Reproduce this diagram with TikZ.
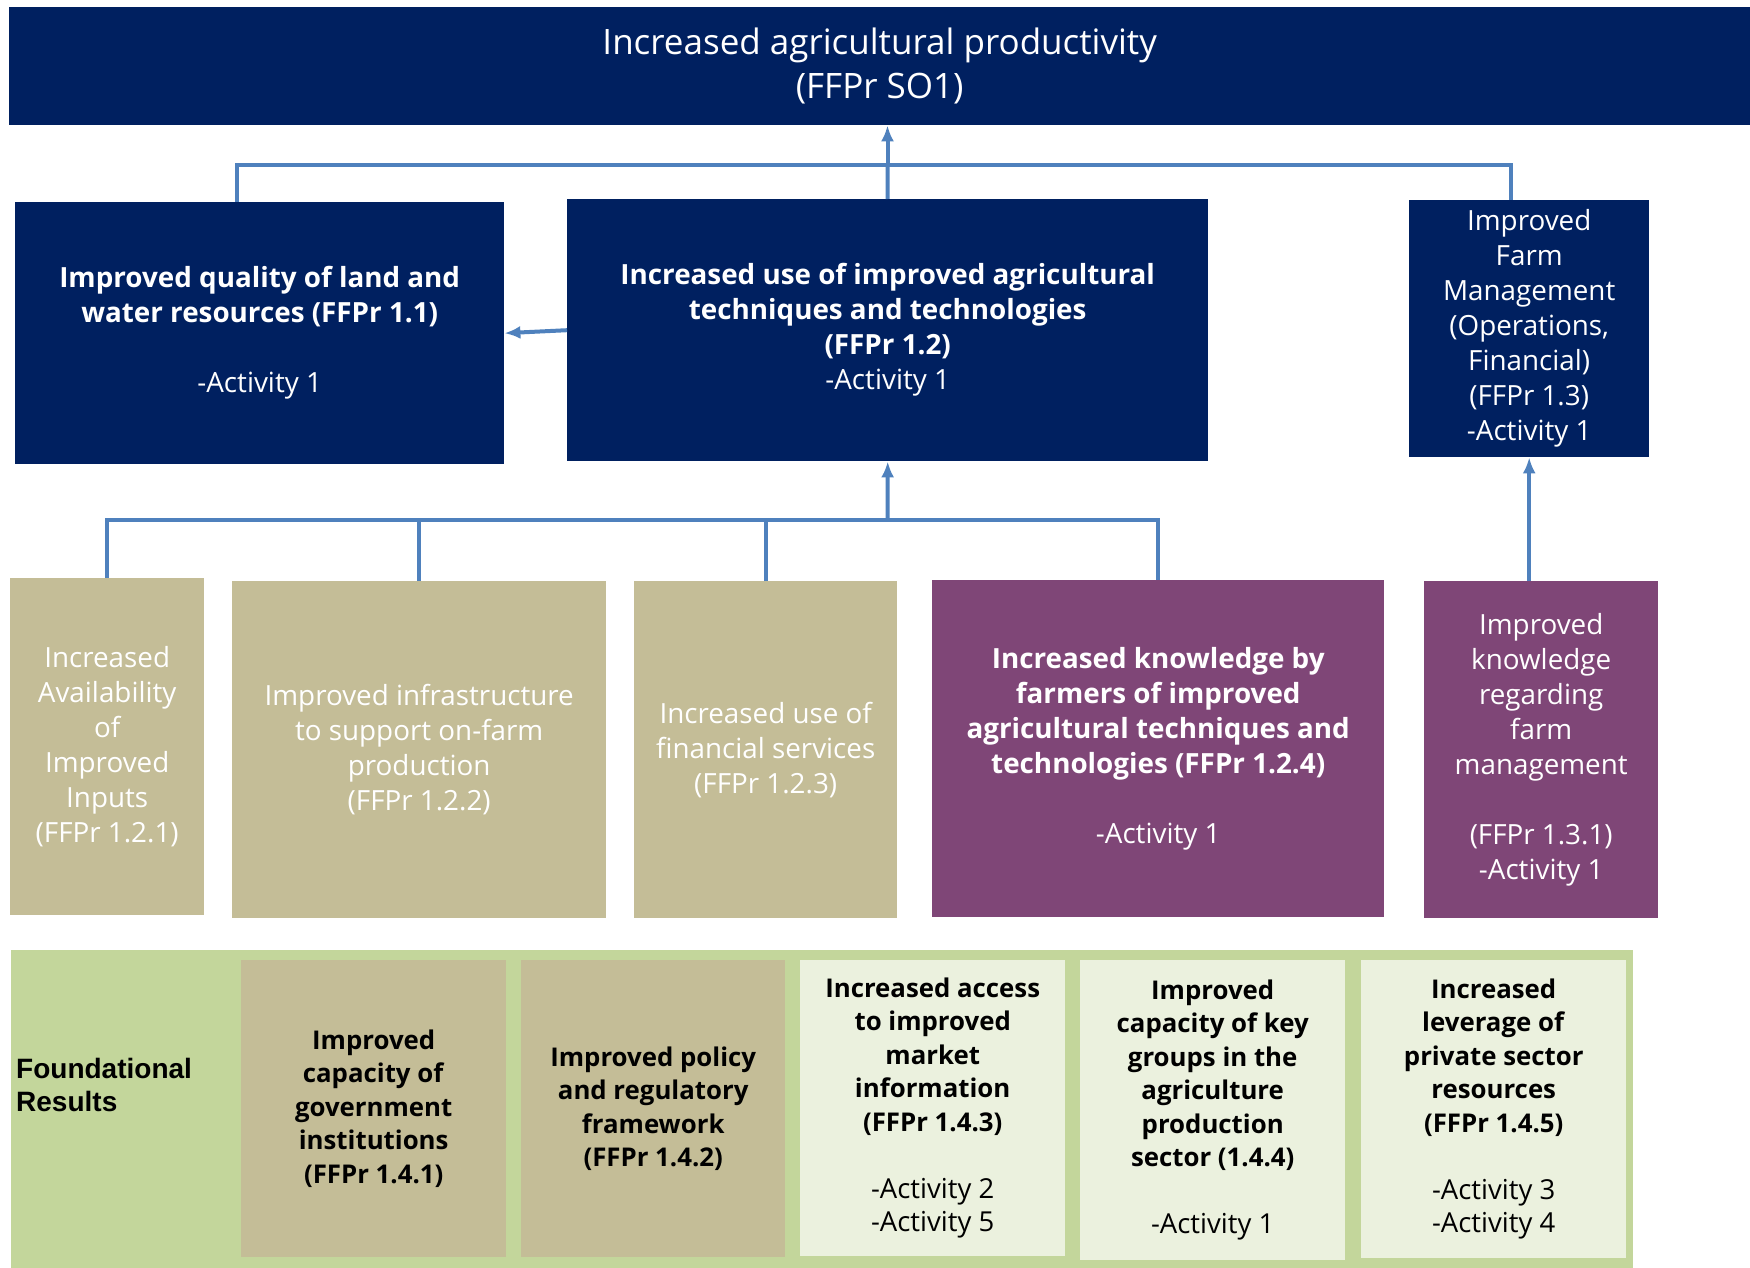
\documentclass[tikz,border=0pt]{standalone}
\usepackage{fontspec}
\setmainfont{Open Sans}
\newfontfamily\labelfont{Liberation Sans}
\usepackage{xcolor}
\definecolor{fs-navy}{HTML}{002060}
\definecolor{fs-link}{HTML}{4F81BD}
\definecolor{fs-tan}{HTML}{C4BD97}
\definecolor{fs-plum}{HTML}{7F4677}
\definecolor{fs-green}{HTML}{C3D69B}
\definecolor{fs-pale}{HTML}{EBF1DE}
\usetikzlibrary{arrows.meta}
\newcommand{\act}[1]{{\fontsize{27.5}{33.5}\selectfont #1}}

\begin{document}
\begin{tikzpicture}[x=1pt,y=-1pt,
    box/.style={rectangle, inner sep=0pt, anchor=north west, align=center},
    navybox/.style={box, fill=fs-navy, text=white, font=\fontsize{27.8}{35}\selectfont},
    tanbox/.style={box, fill=fs-tan, text=white, font=\fontsize{27.8}{35}\selectfont},
    plumbox/.style={box, fill=fs-plum, text=white, font=\fontsize{27.8}{35}\selectfont},
    basebox/.style={box, text=black, font=\fontsize{25.8}{33.5}\selectfont},
    link/.style={draw=fs-link, line width=4pt},
    uplink/.style={link, -{Latex[length=16pt,width=13pt]}}]

  \useasboundingbox (0,0) rectangle (1750,1268);

  % Goal banner
  \node[box, fill=fs-navy, text=white, font=\fontsize{35}{44}\selectfont,
        minimum width=1741pt, minimum height=118pt] (goal) at (9,7)
        {Increased agricultural productivity\\(FFPr SO1)};

  % Second row
  \node[navybox, minimum width=489pt, minimum height=262pt] (land) at (15,202)
        {\textbf{Improved quality of land and}\\\textbf{water resources (FFPr 1.1)}\\[35pt]-Activity 1};
  \node[navybox, minimum width=641pt, minimum height=262pt] (tech) at (567,199)
        {\textbf{Increased use of improved agricultural}\\\textbf{techniques and technologies}\\\textbf{(FFPr 1.2)}\\-Activity 1};
  \node[navybox, minimum width=240pt, minimum height=257pt] (farm) at (1409,200)
        {Improved\\Farm\\Management\\(Operations,\\Financial)\\(FFPr 1.3)\\-Activity 1};

  % Third row
  \node[tanbox, minimum width=194pt, minimum height=337pt] (avail) at (10,578)
        {Increased\\Availability\\of\\Improved\\Inputs\\(FFPr 1.2.1)};
  \node[tanbox, minimum width=374pt, minimum height=337pt] (infra) at (232,581)
        {Improved infrastructure\\to support on-farm\\production\\(FFPr 1.2.2)};
  \node[tanbox, minimum width=263pt, minimum height=337pt] (fin) at (634,581)
        {Increased use of\\financial services\\(FFPr 1.2.3)};
  \node[plumbox, minimum width=452pt, minimum height=337pt] (know) at (932,580)
        {\textbf{Increased knowledge by}\\\textbf{farmers of improved}\\\textbf{agricultural techniques and}\\\textbf{technologies (FFPr 1.2.4)}\\[35pt]-Activity 1};
  \node[plumbox, minimum width=234pt, minimum height=337pt] (farmknow) at (1424,581)
        {Improved\\knowledge\\regarding\\farm\\management\\[35pt](FFPr 1.3.1)\\-Activity 1};

  % Foundational results
  \node[box, fill=fs-green, minimum width=1622pt, minimum height=318pt] (base) at (11,950) {};
  \node[basebox, anchor=west, align=left, font=\labelfont\fontsize{28}{33.5}\selectfont] (baselabel) at (16,1085)
        {\textbf{Foundational}\\\textbf{Results}};
  \node[basebox, fill=fs-tan, minimum width=265pt, minimum height=297pt] (gov) at (241,960)
        {\textbf{Improved}\\\textbf{capacity of}\\\textbf{government}\\\textbf{institutions}\\\textbf{(FFPr 1.4.1)}};
  \node[basebox, fill=fs-tan, minimum width=264pt, minimum height=297pt] (policy) at (521,960)
        {\textbf{Improved policy}\\\textbf{and regulatory}\\\textbf{framework}\\\textbf{(FFPr 1.4.2)}};
  \node[basebox, fill=fs-pale, minimum width=265pt, minimum height=296pt] (market) at (800,960)
        {\textbf{Increased access}\\\textbf{to improved}\\\textbf{market}\\\textbf{information}\\\textbf{(FFPr 1.4.3)}\\[33.5pt]\act{-Activity 2}\\\act{-Activity 5}};
  \node[basebox, fill=fs-pale, minimum width=265pt, minimum height=300pt] (groups) at (1080,960)
        {\textbf{Improved}\\\textbf{capacity of key}\\\textbf{groups in the}\\\textbf{agriculture}\\\textbf{production}\\\textbf{sector (1.4.4)}\\[33.5pt]\act{-Activity 1}};
  \node[basebox, fill=fs-pale, minimum width=265pt, minimum height=298pt] (leverage) at (1361,960)
        {\textbf{Increased}\\\textbf{leverage of}\\\textbf{private sector}\\\textbf{resources}\\\textbf{(FFPr 1.4.5)}\\[33.5pt]\act{-Activity 3}\\\act{-Activity 4}};

  % Connectors to the goal
  \coordinate (topbus) at (887.5,165);
  \draw[link] ([xshift=-22.5pt]land.north) |- (topbus) -| ([xshift=-18pt]farm.north);
  \draw[link] (tech.north) -- (topbus);
  \draw[uplink] (topbus) -- (topbus |- goal.south);

  % Connectors to FFPr 1.2
  \coordinate (midbus) at (887.5,520);
  \draw[link] (avail.north) |- (midbus) -| (know.north);
  \draw[link] (infra.north) -- (infra.north |- midbus);
  \draw[link] (fin.north) -- (fin.north |- midbus);
  \draw[uplink] (midbus) -- (tech.south);
  \draw[uplink] (tech.west) -- (land.east);

  % Connector to FFPr 1.3
  \draw[uplink] (farmknow.north -| farm.south) -- (farm.south);

\end{tikzpicture}
\end{document}
